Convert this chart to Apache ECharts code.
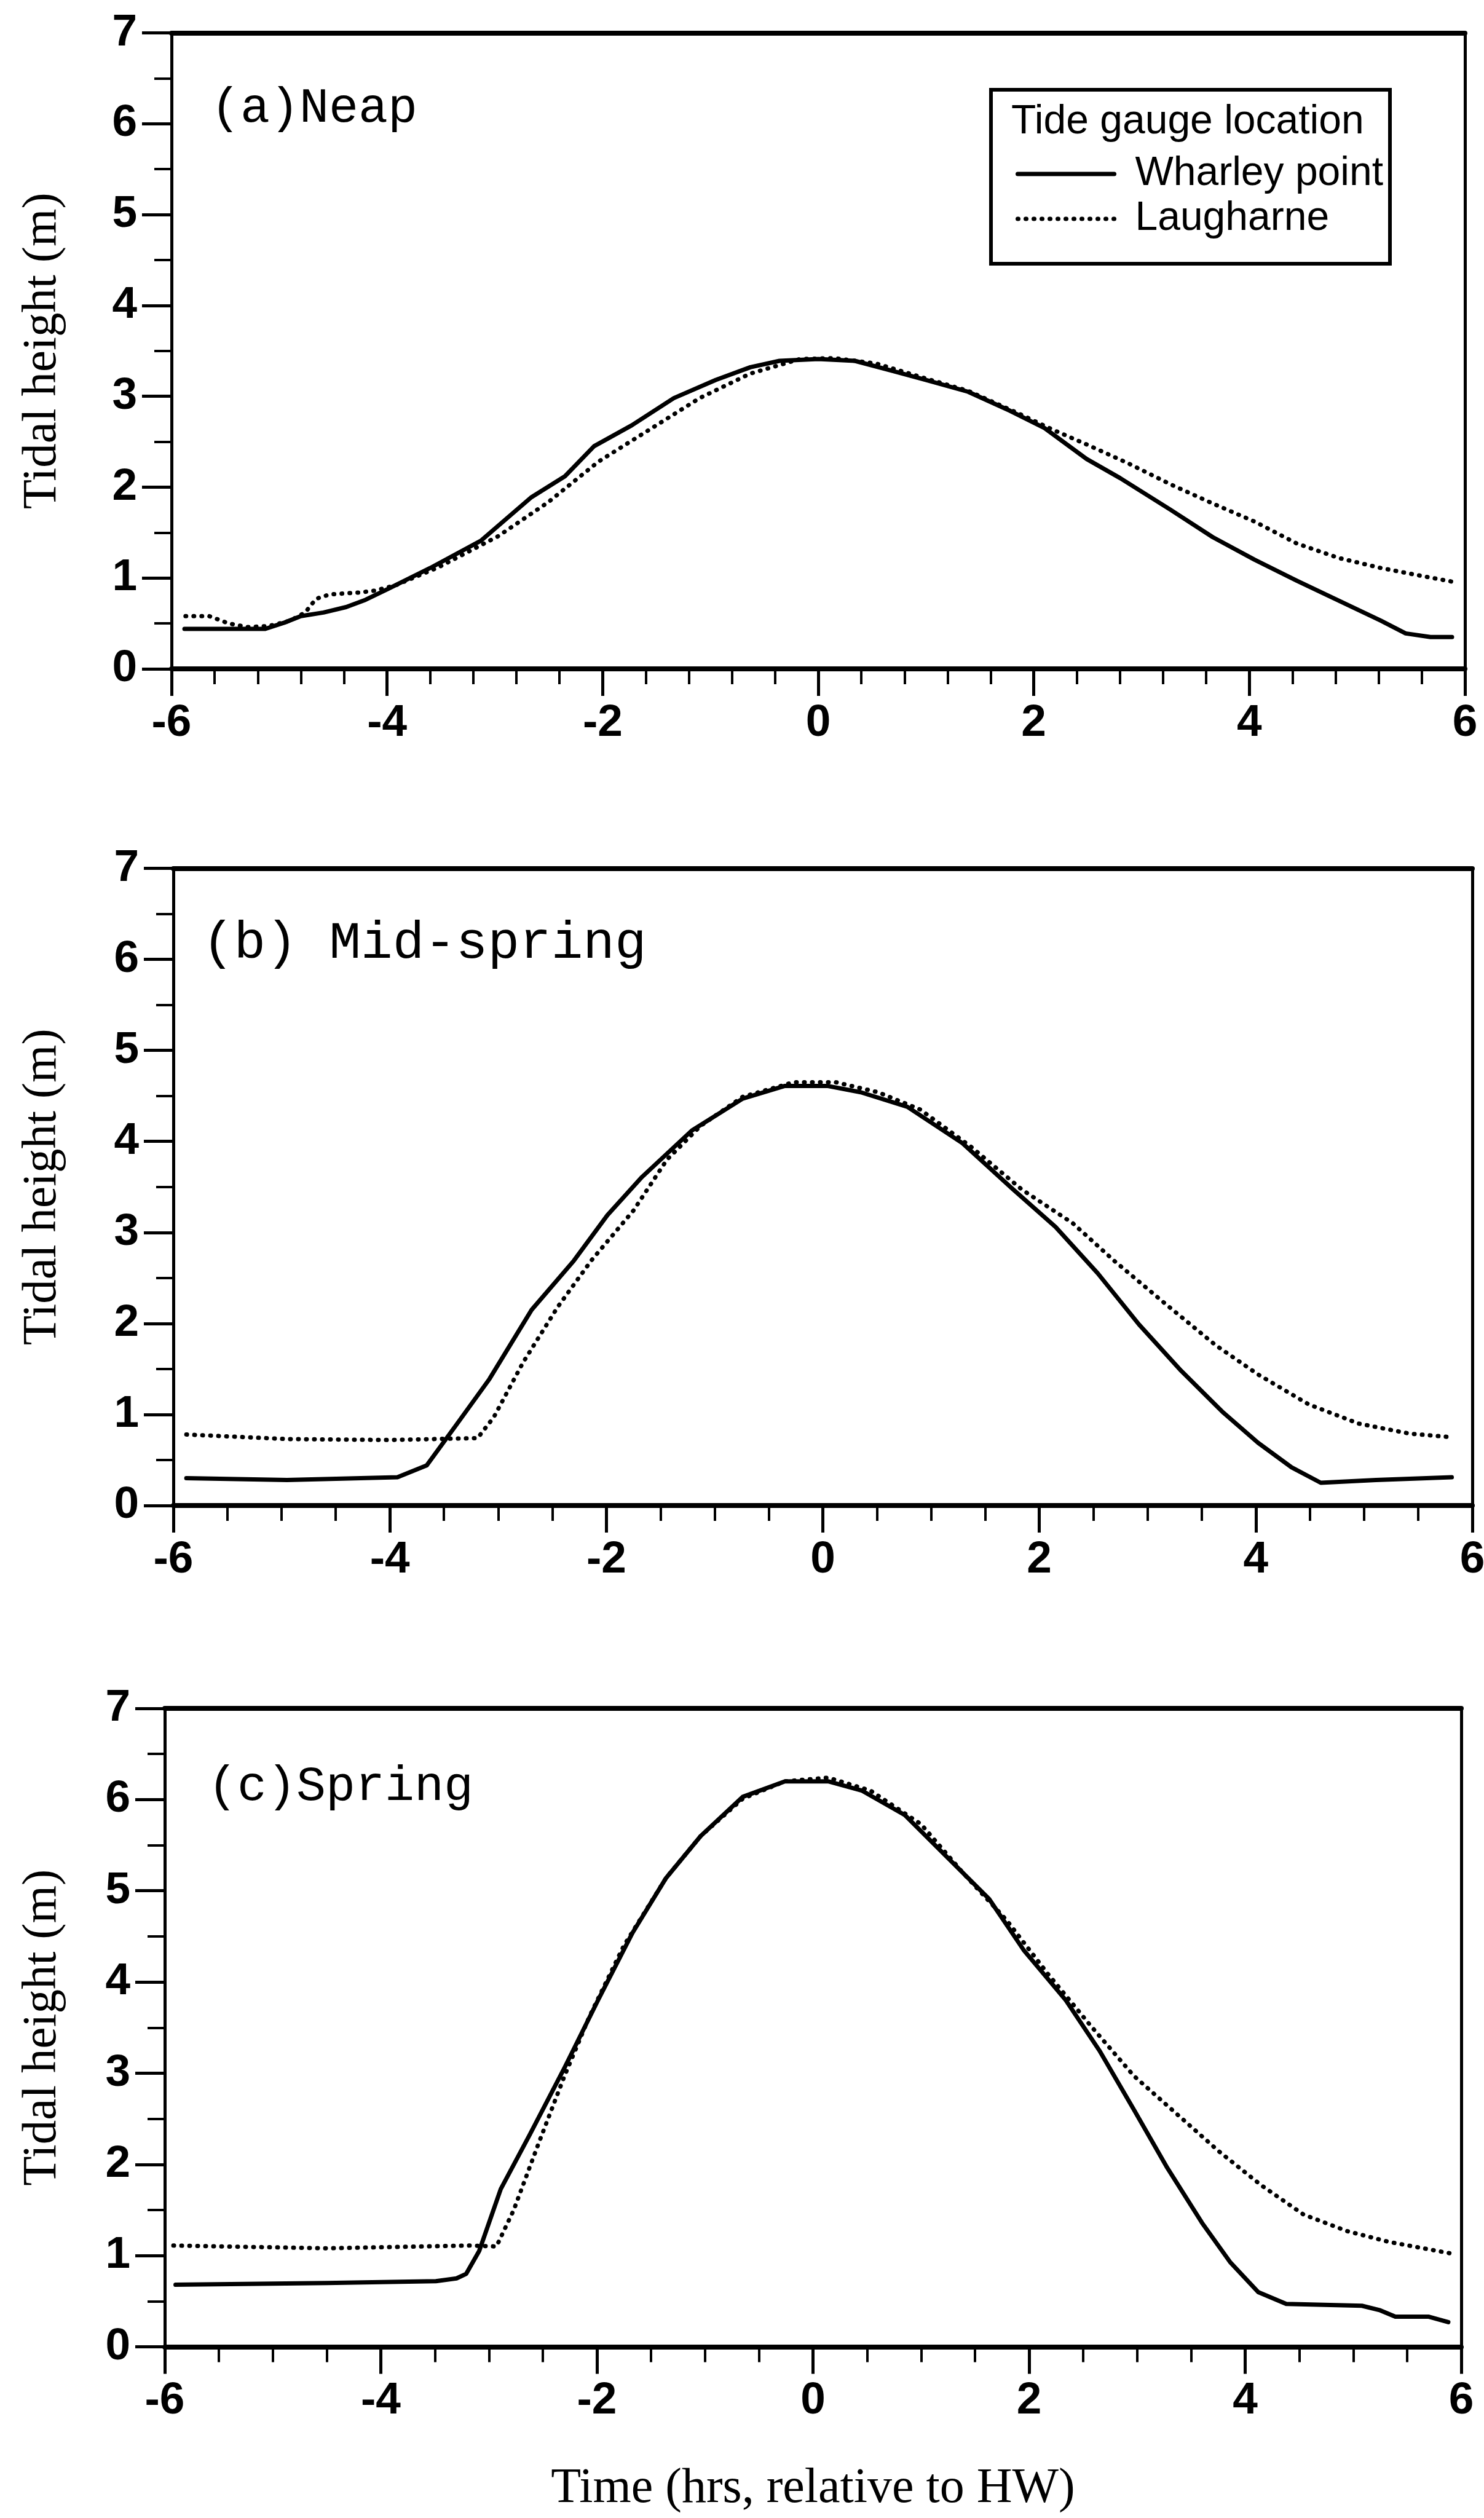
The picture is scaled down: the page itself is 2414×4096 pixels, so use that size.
<!DOCTYPE html>
<html><head><meta charset="utf-8">
<script src="https://cdn.jsdelivr.net/npm/echarts@6/dist/echarts.min.js"></script>
<style>html,body{margin:0;padding:0;background:#fff}#c{width:2414px;height:4096px}</style>
</head><body><div id="c"></div>
<script>
// ---- tick values ----
const xTickValues = [-6, -4, -2, 0, 2, 4, 6];
const yTickValues = [0, 1, 2, 3, 4, 5, 6, 7];

// ---- panel labels ----
const panelLabels = ['(a)Neap', '(b) Mid-spring', '(c)Spring'];
const legendNames = ['Wharley point', 'Laugharne'];
const legendTitle = 'Tide gauge location';
const yTitle = 'Tidal height (m)';
const xTitle = 'Time (hrs, relative to HW)';

// ---- data: [time (hrs rel. HW), tidal height (m)] ----
const neapWharley = [[-5.88,0.44],[-5.5,0.44],[-5.13,0.44],[-4.95,0.51],[-4.8,0.58],[-4.59,0.62],[-4.38,0.68],[-4.2,0.76],[-3.99,0.88],[-3.6,1.11],[-3.13,1.41],[-2.66,1.89],[-2.35,2.12],[-2.08,2.45],[-1.73,2.68],[-1.34,2.98],[-0.95,3.18],[-0.63,3.32],[-0.36,3.39],[0.0,3.41],[0.34,3.39],[0.69,3.28],[1.0,3.18],[1.39,3.05],[1.78,2.84],[2.1,2.65],[2.49,2.31],[2.8,2.1],[3.27,1.75],[3.66,1.45],[4.05,1.2],[4.44,0.97],[4.83,0.75],[5.22,0.53],[5.45,0.39],[5.68,0.35],[5.88,0.35]];
const neapLaugharne = [[-5.87,0.58],[-5.65,0.58],[-5.47,0.5],[-5.3,0.46],[-5.1,0.47],[-4.9,0.53],[-4.76,0.62],[-4.66,0.77],[-4.53,0.82],[-4.26,0.84],[-4.12,0.86],[-3.92,0.92],[-3.52,1.12],[-2.97,1.46],[-2.51,1.83],[-2.04,2.28],[-1.57,2.63],[-1.1,2.98],[-0.63,3.25],[-0.17,3.41],[0.15,3.42],[0.54,3.36],[0.93,3.22],[1.39,3.06],[1.86,2.81],[2.18,2.63],[2.49,2.47],[2.88,2.26],[3.27,2.03],[3.66,1.82],[4.05,1.62],[4.44,1.38],[4.83,1.22],[5.22,1.11],[5.61,1.02],[5.88,0.96]];

const midWharley = [[-5.88,0.3],[-4.95,0.28],[-3.93,0.31],[-3.66,0.44],[-3.39,0.88],[-3.08,1.39],[-2.69,2.15],[-2.3,2.69],[-1.99,3.19],[-1.67,3.61],[-1.21,4.12],[-0.74,4.47],[-0.35,4.61],[0.04,4.61],[0.35,4.54],[0.78,4.38],[1.29,3.98],[1.76,3.47],[2.15,3.06],[2.54,2.55],[2.92,1.99],[3.31,1.48],[3.7,1.02],[4.02,0.69],[4.33,0.42],[4.6,0.25],[5.11,0.28],[5.81,0.31]];
const midLaugharne = [[-5.88,0.78],[-4.95,0.73],[-4.01,0.72],[-3.19,0.74],[-3.04,0.97],[-2.77,1.57],[-2.45,2.18],[-2.14,2.69],[-1.75,3.24],[-1.44,3.8],[-1.13,4.17],[-0.74,4.49],[-0.27,4.65],[0.12,4.65],[0.51,4.54],[0.9,4.35],[1.37,3.94],[1.84,3.47],[2.31,3.1],[2.69,2.69],[3.16,2.22],[3.63,1.76],[4.02,1.44],[4.49,1.11],[4.95,0.9],[5.42,0.79],[5.81,0.75]];

const springWharley = [[-5.9,0.68],[-4.5,0.7],[-3.49,0.72],[-3.3,0.75],[-3.21,0.8],[-3.09,1.05],[-2.89,1.73],[-2.62,2.33],[-2.3,3.06],[-1.99,3.8],[-1.67,4.54],[-1.36,5.14],[-1.04,5.6],[-0.65,6.03],[-0.26,6.2],[0.14,6.2],[0.45,6.1],[0.85,5.83],[1.24,5.37],[1.63,4.91],[1.95,4.35],[2.34,3.8],[2.65,3.25],[2.97,2.6],[3.28,1.96],[3.6,1.36],[3.86,0.93],[4.12,0.6],[4.38,0.47],[5.08,0.45],[5.25,0.4],[5.39,0.33],[5.7,0.33],[5.88,0.27]];
const springLaugharne = [[-5.92,1.11],[-4.5,1.08],[-3.17,1.11],[-2.93,1.1],[-2.77,1.5],[-2.54,2.23],[-2.3,2.97],[-2.07,3.62],[-1.75,4.4],[-1.36,5.14],[-1.04,5.6],[-0.65,6.01],[-0.26,6.2],[0.14,6.24],[0.53,6.1],[1.0,5.73],[1.4,5.18],[1.79,4.68],[2.18,4.08],[2.57,3.52],[2.97,2.97],[3.36,2.56],[3.76,2.14],[4.15,1.77],[4.54,1.45],[4.94,1.27],[5.33,1.15],[5.92,1.02]];

const wharleySets = [neapWharley, midWharley, springWharley];
const laugharneSets = [neapLaugharne, midLaugharne, springLaugharne];

// ---- layout (px) ----
const grids = [
  {left: 279, top: 53.5, width: 2104, height: 1034.5},
  {left: 282, top: 1412.5, width: 2113, height: 1036.5},
  {left: 268, top: 2779, width: 2109, height: 1038.5}
];
const xMinorSplit = [5, 4, 4];
const yNameGap = [170, 173, 159];
const labelPos = [[343, 177, 80], [329, 1535, 86], [338, 2907, 80]];

const sansFont = "'Liberation Sans', Arial, sans-serif";
const serifFont = "'Liberation Serif', 'Times New Roman', serif";
const monoFont = "'Liberation Mono', 'Courier New', monospace";
const tickLabelStyle = {color: '#000', fontFamily: sansFont, fontWeight: 'bold', fontSize: 73};
const solidStyle = {color: '#000', width: 7, cap: 'round', join: 'round'};
const dottedStyle = {color: '#000', width: 7, type: [1, 12], cap: 'round', join: 'round'};

const xAxes = [], yAxes = [], series = [], graphics = [];
grids.forEach((g, i) => {
  xAxes.push({
    gridIndex: i, type: 'value', position: 'bottom',
    min: xTickValues[0], max: xTickValues[xTickValues.length - 1], interval: xTickValues[1] - xTickValues[0],
    axisLine: {show: true, onZero: false, lineStyle: {color: '#000', width: 8}},
    axisTick: {show: true, length: 44, lineStyle: {color: '#000', width: 5}},
    minorTick: {show: true, splitNumber: xMinorSplit[i], length: 25, lineStyle: {color: '#000', width: 4}},
    splitLine: {show: false}, minorSplitLine: {show: false},
    axisLabel: Object.assign({margin: 52, showMinLabel: true, showMaxLabel: true}, tickLabelStyle),
    name: i === 2 ? xTitle : '', nameLocation: 'middle', nameGap: 191,
    nameTextStyle: {color: '#000', fontFamily: serifFont, fontSize: 80}
  });
  xAxes.push({
    gridIndex: i, type: 'value', position: 'top',
    min: xTickValues[0], max: xTickValues[xTickValues.length - 1],
    axisLine: {show: true, onZero: false, lineStyle: {color: '#000', width: 8}},
    axisTick: {show: false}, axisLabel: {show: false}, splitLine: {show: false}
  });
  yAxes.push({
    gridIndex: i, type: 'value', position: 'left',
    min: yTickValues[0], max: yTickValues[yTickValues.length - 1], interval: yTickValues[1] - yTickValues[0],
    axisLine: {show: true, onZero: false, lineStyle: {color: '#000', width: 5}},
    axisTick: {show: true, length: 48, lineStyle: {color: '#000', width: 5}},
    minorTick: {show: true, splitNumber: 2, length: 28, lineStyle: {color: '#000', width: 4}},
    splitLine: {show: false}, minorSplitLine: {show: false},
    axisLabel: Object.assign({margin: 56, showMinLabel: true, showMaxLabel: true}, tickLabelStyle),
    name: yTitle, nameLocation: 'middle', nameRotate: 90, nameGap: yNameGap[i],
    nameTextStyle: {color: '#000', fontFamily: serifFont, fontSize: 79}
  });
  yAxes.push({
    gridIndex: i, type: 'value', position: 'right',
    min: yTickValues[0], max: yTickValues[yTickValues.length - 1],
    axisLine: {show: true, onZero: false, lineStyle: {color: '#000', width: 5}},
    axisTick: {show: false}, axisLabel: {show: false}, splitLine: {show: false}
  });
  series.push({
    type: 'line', name: legendNames[0], xAxisIndex: 2 * i, yAxisIndex: 2 * i,
    data: wharleySets[i], symbol: 'none', smooth: false, z: 3,
    lineStyle: solidStyle, itemStyle: {color: '#000'}
  });
  series.push({
    type: 'line', name: legendNames[1], xAxisIndex: 2 * i, yAxisIndex: 2 * i,
    data: laugharneSets[i], symbol: 'none', smooth: false, z: 3,
    lineStyle: dottedStyle, itemStyle: {color: '#000'}
  });
  graphics.push({
    type: 'text', left: labelPos[i][0], top: labelPos[i][1] - labelPos[i][2] / 2,
    style: {text: panelLabels[i], fill: '#000', font: labelPos[i][2] + 'px ' + monoFont}
  });
});

// legend box + heading
graphics.push({
  type: 'rect', shape: {x: 1612, y: 146, width: 649, height: 283},
  style: {fill: '#fff', stroke: '#000', lineWidth: 6}, z: 1
});
graphics.push({
  type: 'text', left: 1645, top: 202 - 36,
  style: {text: legendTitle, fill: '#000', font: '66px ' + sansFont}, z: 2
});

const chart = echarts.init(document.getElementById('c'), null, {renderer: 'canvas'});
chart.setOption({
  animation: false,
  backgroundColor: '#fff',
  grid: grids.map(g => Object.assign({containLabel: false, outerBoundsMode: 'none'}, g)),
  xAxis: xAxes,
  yAxis: yAxes,
  legend: {
    data: legendNames, orient: 'vertical', left: 1647, top: 245,
    itemWidth: 157, itemHeight: 24, itemGap: 7, selectedMode: false, z: 5,
    itemStyle: {opacity: 0, color: 'transparent', borderWidth: 0},
    lineStyle: {width: 7, color: '#000'},
    textStyle: {color: '#000', fontFamily: sansFont, fontSize: 66, lineHeight: 66, padding: [0, 0, 0, 29]}
  },
  graphic: graphics,
  series: series
});
</script>
</body></html>
